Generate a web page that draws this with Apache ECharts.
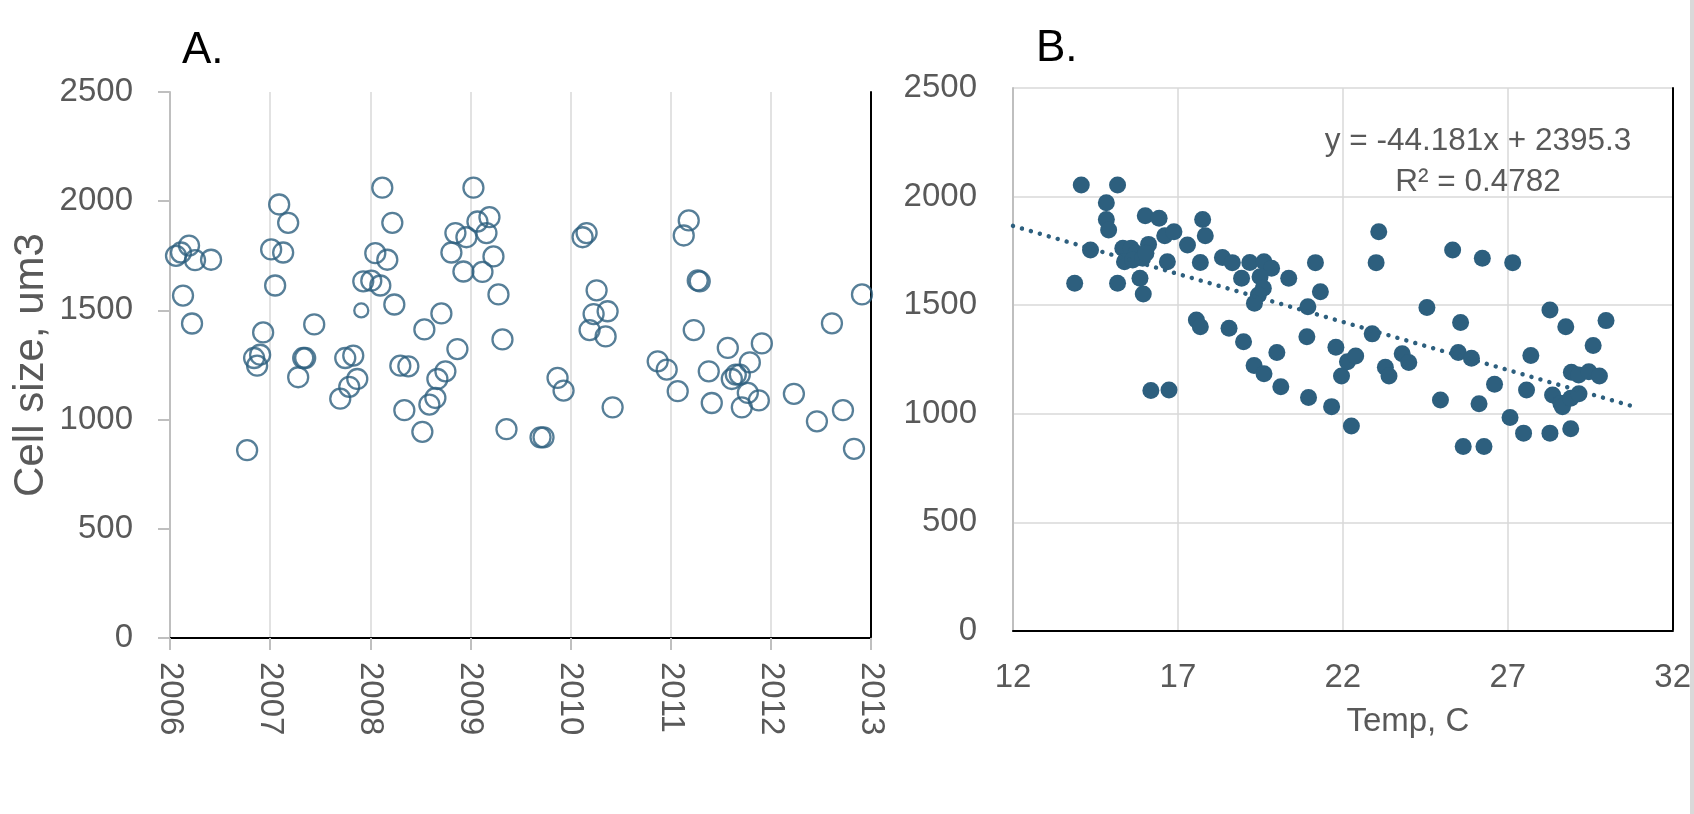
<!DOCTYPE html>
<html>
<head>
<meta charset="utf-8">
<title>Cell size</title>
<script src="https://cdn.jsdelivr.net/npm/echarts@6/dist/echarts.min.js"></script>
<style>
  html, body { margin: 0; padding: 0; background: #fff; }
  #chart { width: 1694px; height: 814px; }
</style>
</head>
<body>
<div id="chart"></div>
<script>
// A. cell size over time (decimal year)
const aYear = [
  2006.06, 2006.11, 2006.19, 2006.25, 2006.41, 2006.13, 2006.22,
  2006.77, 2006.93, 2006.84, 2006.90, 2006.87, 2007.09, 2007.18, 2007.01, 2007.13, 2007.05,
  2007.44, 2007.28, 2007.33, 2007.35, 2007.70, 2007.79, 2007.87, 2007.75, 2007.83, 2007.91,
  2007.93, 2008.01, 2008.10, 2008.05, 2008.17, 2008.12, 2008.22, 2008.24, 2008.30, 2008.38,
  2008.34, 2008.52, 2008.54, 2008.71, 2008.87, 2008.75, 2008.67, 2008.65, 2008.59, 2008.81,
  2008.85, 2008.96, 2008.93, 2009.03, 2009.07, 2009.19, 2009.16, 2009.23, 2009.12, 2009.28,
  2009.32, 2009.36, 2010.12, 2010.16, 2009.87, 2009.93, 2009.70, 2009.73, 2010.26, 2010.23,
  2010.37, 2010.19, 2010.35, 2010.42, 2011.18, 2011.13, 2011.27, 2011.29, 2011.23, 2010.87,
  2010.96, 2011.07, 2011.57, 2011.91, 2011.79, 2011.38, 2011.61, 2011.65, 2011.69, 2011.77,
  2011.88, 2011.71, 2011.41, 2012.23, 2012.46, 2012.72, 2012.61, 2012.91, 2012.83
];
const aSize = [
  1750, 1765, 1797, 1730, 1732, 1568, 1440,
  860, 1399, 1282, 1297, 1247, 1985, 1901, 1779, 1765, 1614,
  1436, 1194, 1282, 1282, 1096, 1150, 1186, 1282, 1293, 1500,
  1633, 1636, 1614, 1762, 1732, 2062, 1901, 1527, 1247, 1244,
  1043, 944, 1413, 1486, 1323, 1221, 1186, 1099, 1069, 1765,
  1854, 1835, 1678, 2062, 1907, 1927, 1854, 1747, 1676, 1573,
  1367, 956, 1835, 1854, 1191, 1133, 919, 919, 1592, 1483,
  1496, 1410, 1381, 1056, 1912, 1843, 1637, 1633, 1410, 1267,
  1229, 1130, 1328, 1349, 1262, 1221, 1186, 1206, 1206, 1122,
  1088, 1056, 1076, 1118, 992, 1043, 1441, 1573, 866
];
const aSmallPoint = 26; // the one smaller marker near 2008

// B. cell size vs temperature
const bTemp = [
  14.07, 15.17, 14.83, 14.83, 14.90, 14.35, 13.87, 15.17, 15.33, 15.58,
  15.73, 15.38, 15.63, 15.93, 16.11, 16.03, 15.85, 15.95, 16.01, 16.43,
  16.60, 16.88, 16.68, 17.29, 17.75, 17.83, 17.68, 17.56, 17.68, 16.18,
  16.73, 18.35, 18.65, 18.55, 18.99, 18.93, 19.18, 19.61, 19.84, 19.49,
  19.59, 19.44, 19.32, 20.36, 21.17, 21.32, 20.94, 20.91, 21.79, 21.96,
  21.66, 19.31, 19.61, 20.00, 20.12, 20.96, 23.09, 23.01, 25.33, 26.23,
  27.15, 24.55, 25.57, 28.28, 28.76, 29.98, 29.59, 22.89, 22.14, 22.39,
  23.29, 23.40, 23.80, 24.00, 25.50, 25.90, 27.70, 26.60, 27.57, 28.93,
  29.15, 29.46, 29.78, 28.36, 28.61, 28.66, 28.91, 29.16, 24.96, 26.13,
  22.26, 27.07, 27.48, 28.28, 28.91, 25.65, 26.28
];
const bSize = [
  2053, 2053, 1972, 1895, 1846, 1754, 1601, 1601, 1762, 1762,
  1739, 1700, 1708, 1716, 1780, 1739, 1624, 1552, 1912, 1900,
  1820, 1838, 1700, 1777, 1895, 1820, 1697, 1432, 1401, 1107,
  1110, 1720, 1696, 1394, 1332, 1624, 1697, 1700, 1670, 1631,
  1578, 1547, 1509, 1624, 1696, 1562, 1493, 1355, 1306, 1174,
  1033, 1222, 1184, 1282, 1125, 1075, 1838, 1696, 1754, 1716,
  1696, 1489, 1420, 1478, 1401, 1429, 1314, 1368, 1240, 1266,
  1214, 1174, 1276, 1236, 1282, 1256, 1268, 1136, 1110, 1191,
  1179, 1194, 1174, 1087, 1049, 1033, 1072, 1092, 1064, 1046,
  944, 983, 911, 911, 931, 849, 849
];

// linear trendline ends, as drawn
const trendTemp = [12, 30.8];
const trendSize = [1865, 1034];

const yTicks = [0, 500, 1000, 1500, 2000, 2500];
const eqLines = ['y = -44.181x + 2395.3', 'R\u00b2 = 0.4782'];

const blue = '#2d5f7e';
const labelGray = '#595959';
const font = '"Liberation Sans", Arial, sans-serif';

const pointsA = aYear.map((yr, i) => {
  const p = { value: [yr, aSize[i]] };
  if (i === aSmallPoint) p.symbolSize = 14;
  return p;
});
const pointsB = bTemp.map((t, i) => [t, bSize[i]]);
const trend = trendTemp.map((t, i) => [t, trendSize[i]]);

const tickLabel = { color: labelGray, fontSize: 33, fontFamily: font };

function frameAxis (pos, gridIndex, extra) {
  return Object.assign({
    type: 'value',
    gridIndex,
    position: pos,
    axisLine: { show: true, lineStyle: { color: '#000', width: 2 } },
    axisTick: { show: false },
    axisLabel: { show: false },
    splitLine: { show: false }
  }, extra)
}

const chart = echarts.init(document.getElementById('chart'));
chart.setOption({
  animation: false,
  backgroundColor: '#fff',
  textStyle: { fontFamily: font },
  title: [
    { text: 'A.', left: 177, top: 24, textStyle: { color: '#000', fontSize: 44, fontWeight: 'normal', fontFamily: font } },
    { text: 'B.', left: 1031, top: 22, textStyle: { color: '#000', fontSize: 44, fontWeight: 'normal', fontFamily: font } }
  ],
  grid: [
    { left: 170, top: 92, width: 701, height: 546 },
    { left: 1013, top: 88, width: 664, height: 543 }
  ],
  xAxis: [
    {
      type: 'value', gridIndex: 0, min: 2006, max: 2013, interval: 1,
      axisLine: { lineStyle: { color: '#bfbfbf', width: 2 } },
      axisTick: { show: true, inside: false, length: 12, lineStyle: { color: '#bfbfbf', width: 2 } },
      axisLabel: Object.assign({ rotate: -90, margin: 24, formatter: v => String(v) }, tickLabel),
      splitLine: { show: true, lineStyle: { color: '#d9d9d9', width: 1.5 } }
    },
    frameAxis('top', 0, { min: 2006, max: 2013 }),
    {
      type: 'value', gridIndex: 1, min: 12, max: 32, interval: 5,
      name: 'Temp, C', nameLocation: 'middle', nameGap: 74,
      nameTextStyle: { color: labelGray, fontSize: 33, fontFamily: font, padding: [0, 0, 0, 130] },
      axisLine: { lineStyle: { color: '#bfbfbf', width: 2 } },
      axisTick: { show: false },
      axisLabel: Object.assign({ margin: 30, formatter: v => String(v) }, tickLabel),
      splitLine: { show: true, lineStyle: { color: '#d9d9d9', width: 1.5 } }
    },
    frameAxis('top', 1, { min: 12, max: 32 })
  ],
  yAxis: [
    {
      type: 'value', gridIndex: 0, min: yTicks[0], max: yTicks[yTicks.length - 1], interval: 500,
      name: 'Cell size, um3', nameLocation: 'middle', nameGap: 118,
      nameTextStyle: { color: labelGray, fontSize: 42, fontFamily: font },
      axisLine: { show: true, lineStyle: { color: '#bfbfbf', width: 2 } },
      axisTick: { show: true, inside: false, length: 12, lineStyle: { color: '#bfbfbf', width: 2 } },
      axisLabel: Object.assign({ margin: 37, formatter: v => String(v) }, tickLabel),
      splitLine: { show: false }
    },
    frameAxis('right', 0, { min: 0, max: 2500 }),
    {
      type: 'value', gridIndex: 1, min: yTicks[0], max: yTicks[yTicks.length - 1], interval: 500,
      axisLine: { show: true, lineStyle: { color: '#bfbfbf', width: 2 } },
      axisTick: { show: false },
      axisLabel: Object.assign({ margin: 36, formatter: v => String(v) }, tickLabel),
      splitLine: { show: true, lineStyle: { color: '#d9d9d9', width: 1.5 } }
    },
    frameAxis('right', 1, { min: 0, max: 2500 })
  ],
  series: [
    {
      type: 'scatter', xAxisIndex: 0, yAxisIndex: 0,
      symbol: 'circle', symbolSize: 20,
      itemStyle: { color: 'rgba(0,0,0,0)', borderColor: blue, borderWidth: 2.3 },
      data: pointsA
    },
    {
      type: 'line', xAxisIndex: 2, yAxisIndex: 2,
      showSymbol: false, symbol: 'none',
      lineStyle: { color: blue, width: 4.5, type: [0.01, 9.3], cap: 'round' },
      data: trend, z: 3
    },
    {
      type: 'scatter', xAxisIndex: 2, yAxisIndex: 2,
      symbol: 'circle', symbolSize: 17,
      itemStyle: { color: blue, opacity: 1 },
      data: pointsB, z: 2
    }
  ],
  graphic: [
    {
      type: 'text', x: 1478, y: 141,
      style: { text: eqLines[0], fill: labelGray, fontSize: 31.5, fontFamily: font, textAlign: 'center', textVerticalAlign: 'middle' }
    },
    {
      type: 'text', x: 1478, y: 182,
      style: { text: eqLines[1], fill: labelGray, fontSize: 31.5, fontFamily: font, textAlign: 'center', textVerticalAlign: 'middle' }
    },
    {
      type: 'rect', shape: { x: 1690, y: 0, width: 4, height: 814 },
      style: { fill: '#d9d9d9' }
    }
  ]
});
</script>
</body>
</html>
